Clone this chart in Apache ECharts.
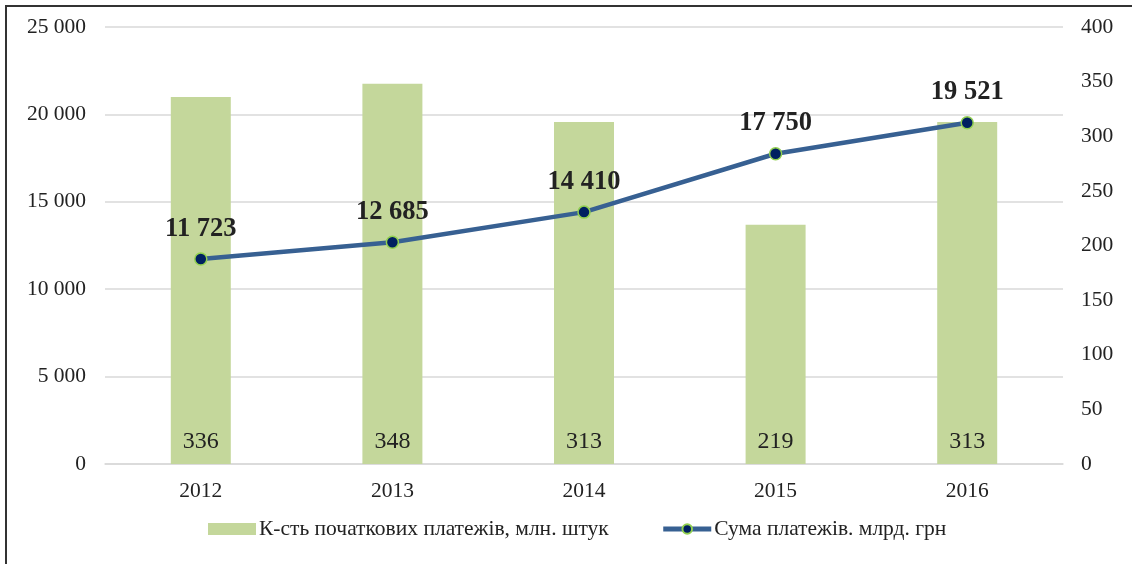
<!DOCTYPE html>
<html>
<head>
<meta charset="utf-8">
<script src="https://cdn.jsdelivr.net/npm/echarts@6/dist/echarts.min.js"></script>
<style>
  html, body { margin: 0; padding: 0; background: #fff; }
  #chart { width: 1132px; height: 564px; }
</style>
</head>
<body>
<div id="chart"></div>
<script>
// data
const years = ['2012', '2013', '2014', '2015', '2016']
const paymentsCount = [336, 348, 313, 219, 313]
const paymentsSum = [11723, 12685, 14410, 17750, 19521]
const barName = 'К-сть початкових платежів, млн. штук'
const lineName = 'Сума платежів. млрд. грн'

const fmt = (v) => String(v).replace(/\B(?=(\d{3})+(?!\d))/g, ' ')
const font = '"Liberation Serif", "DejaVu Serif", serif'

const chart = echarts.init(document.getElementById('chart'))
const option = {
  animation: false,
  textStyle: { fontFamily: font },
  // frame around the chart (only top/left visible)
  graphic: [
    {
      type: 'rect',
      shape: { x: 6, y: 6, width: 1200, height: 700 },
      style: { fill: 'none', stroke: '#333', lineWidth: 2 },
      silent: true
    }
  ],
  grid: { left: 105, right: 69, top: 27, bottom: 100 },
  legend: {
    bottom: 19,
    left: 203,
    itemGap: 52,
    itemWidth: 48,
    itemHeight: 12,
    textStyle: { fontSize: 21.5, color: '#222', fontFamily: font, padding: [0, 0, 0, -2] },
    data: [
      { name: barName, icon: 'rect' },
      { name: lineName, lineStyle: { width: 5 } }
    ]
  },
  xAxis: {
    type: 'category',
    data: years,
    axisTick: { show: false },
    axisLine: { lineStyle: { color: '#d9d9d9', width: 1.5 } },
    axisLabel: { fontSize: 21.5, color: '#222', margin: 16, fontFamily: font }
  },
  yAxis: [
    {
      type: 'value',
      min: 0,
      max: 25000,
      interval: 5000,
      axisLabel: { fontSize: 21.5, color: '#222', margin: 19, formatter: fmt, fontFamily: font },
      splitLine: { lineStyle: { color: '#d9d9d9', width: 1.5 } },
      axisLine: { show: false },
      axisTick: { show: false }
    },
    {
      type: 'value',
      min: 0,
      max: 400,
      interval: 50,
      axisLabel: { fontSize: 21.5, color: '#222', margin: 18, fontFamily: font },
      splitLine: { show: false },
      axisLine: { show: false },
      axisTick: { show: false }
    }
  ],
  series: [
    {
      name: barName,
      type: 'bar',
      yAxisIndex: 1,
      data: paymentsCount,
      barWidth: 60,
      itemStyle: { color: '#c4d79b' },
      label: {
        show: true,
        position: 'insideBottom',
        distance: 10,
        fontSize: 24,
        color: '#222',
        fontFamily: font
      }
    },
    {
      name: lineName,
      type: 'line',
      yAxisIndex: 0,
      data: paymentsSum,
      symbol: 'circle',
      symbolSize: 12,
      lineStyle: { color: '#376092', width: 4.5 },
      itemStyle: { color: '#002060', borderColor: '#92d050', borderWidth: 1.5 },
      label: {
        show: true,
        position: 'top',
        distance: 10,
        fontSize: 26.5,
        fontWeight: 'bold',
        color: '#222',
        fontFamily: font,
        formatter: (p) => fmt(p.value)
      }
    }
  ]
}
chart.setOption(option)
</script>
</body>
</html>
